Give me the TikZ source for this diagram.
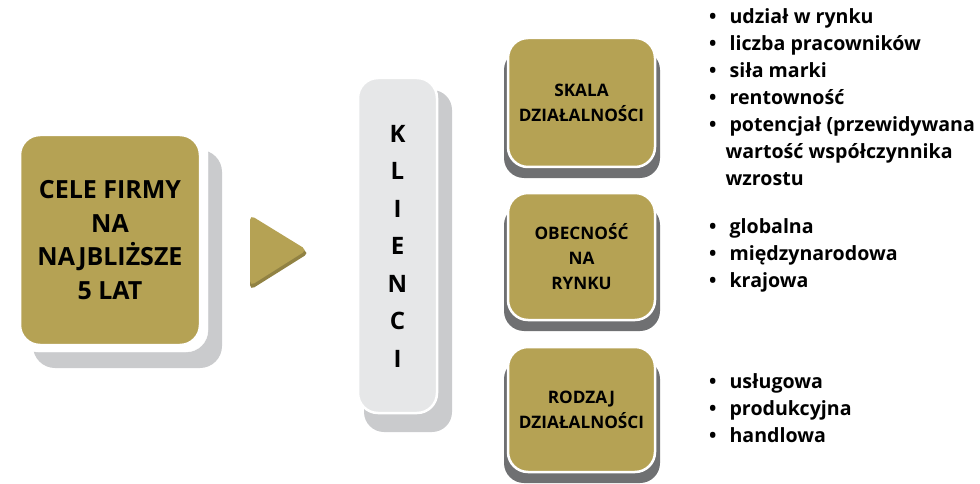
\documentclass[tikz,border=0pt]{standalone}
\usepackage{fontspec}
\setmainfont{Open Sans}
\usetikzlibrary{positioning}
\definecolor{gold}{HTML}{B5A254}
\definecolor{lightshadow}{HTML}{CACBCD}
\definecolor{darkshadow}{HTML}{6F7072}
\definecolor{klfill}{HTML}{E6E7E8}
\tikzset{
  goldbox/.style={fill=gold, draw=white, line width=2.5pt, rounded corners=20pt},
  shadowbig/.style={fill=lightshadow, rounded corners=22pt},
  shadowdark/.style={fill=darkshadow, rounded corners=20pt},
  boxtext/.style={font=\bfseries\fontsize{17.2}{25}\selectfont, align=center, text=black},
  listtext/.style={font=\bfseries\fontsize{19.6}{27}\selectfont, anchor=north west, inner sep=0pt, align=left},
}
\newcommand{\blist}[1]{\begin{tabular}{@{}l@{\hspace{13pt}}l@{}}#1\end{tabular}}
\begin{document}
\begin{tikzpicture}[x=1pt,y=-1pt]
\useasboundingbox (0,0) rectangle (980,484);
% left box
\fill[shadowbig] (33,150) rectangle (222,368);
\draw[fill=white, draw=white, rounded corners=22pt] (16,131) rectangle (208,352);
\draw[goldbox] (20,135) rectangle (200,345);
\node[font=\bfseries\fontsize{25}{33.5}\selectfont, align=center] (goals) at (110,240)
  {CELE FIRMY\\NA\\NAJBLIŻSZE\\5 LAT};
% triangle
\fill[gold!80!black, rounded corners=5pt] (250,219) -- (309,253) -- (250,290) -- cycle;
\fill[gold, rounded corners=5pt] (250,215) -- (307,250) -- (250,286) -- cycle;
\coordinate (tri) at (272,250);
% KLIENCI
\fill[shadowbig, rounded corners=20pt] (364,90) rectangle (452,432);
\draw[fill=klfill, draw=white, line width=2.5pt, rounded corners=20pt] (358,78) rectangle (437,413);
\node[font=\bfseries\fontsize{24}{37.5}\selectfont, align=center] (klienci) at (397.5,246)
  {K\\L\\I\\E\\N\\C\\I};
% right boxes
\foreach \n/\t/\b/\txt in {skala/38/167/{SKALA\\DZIAŁALNOŚCI},obec/193/320/{OBECNOŚĆ\\NA\\RYNKU},rodz/347/472/{RODZAJ\\DZIAŁALNOŚCI}}{
  \fill[shadowdark] (504,\t+12) rectangle (660,\b+11);
  \draw[goldbox] (508,\t) rectangle (655,\b);
  \node[boxtext] (\n) at (581.5,{(\t+\b)/2}) {\txt};
}
% lists
\node[listtext] (l1) at (709,4) {\blist{•&udział w rynku\\ •&liczba pracowników\\ •&siła marki\\ •&rentowność\\ •&potencjał (przewidywana\\ &\hspace{-4pt}wartość współczynnika\\ &\hspace{-4pt}wzrostu}};
\node[listtext] (l2) at (709,214) {\blist{•&globalna\\ •&międzynarodowa\\ •&krajowa}};
\node[listtext] (l3) at (709,369) {\blist{•&usługowa\\ •&produkcyjna\\ •&handlowa}};
\end{tikzpicture}
\end{document}
